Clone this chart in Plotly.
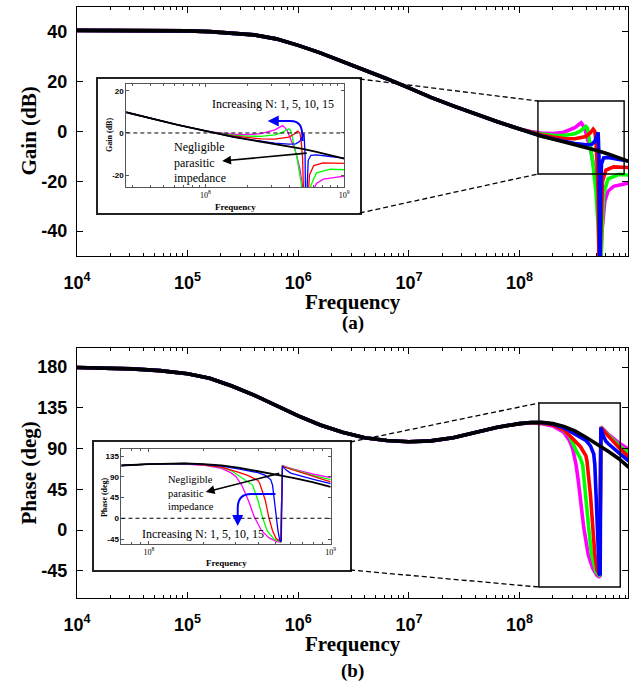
import plotly.graph_objects as go

W, H = 634, 685

# ---------------- data ----------------
# shared low-frequency part (Hz) - all curves coincide here
freq_lo = [1e4, 1.78e4, 3.16e4, 5.62e4, 1e5, 1.58e5, 2.51e5, 3.98e5, 6.31e5,
           1e6, 1.58e6, 2.51e6, 3.98e6, 6.31e6, 1e7, 1.58e7, 2.51e7, 3.98e7, 6.31e7, 1e8]
gain_lo = [40.6, 40.6, 40.6, 40.5, 40.4, 40.1, 39.6, 38.8, 37.2,
           34.6, 31.6, 28.2, 24.6, 21.2, 17.5, 13.7, 10.3, 7.0, 3.9, 1.0]
phase_lo = [179.5, 179.0, 178.0, 176.0, 172.5, 167.5, 159.0, 149.0, 137.0,
            126.0, 116.0, 108.0, 102.0, 98.8, 97.5, 98.5, 102.0, 107.5, 113.5, 117.5]

# Negligible parasitic impedance (black)
neg_gain_f = [1.26e8, 1.58e8, 2.0e8, 2.51e8, 3.16e8, 3.98e8, 5.01e8, 6.31e8, 7.94e8, 1e9]
neg_gain_v = [-0.6, -1.9, -3.0, -4.1, -5.2, -6.3, -7.6, -9.0, -10.5, -12.2]
neg_phase_f = [1.26e8, 1.58e8, 2.0e8, 2.51e8, 3.16e8, 3.98e8, 5.01e8, 6.31e8, 7.94e8, 1e9]
neg_phase_v = [118.8, 119.0, 117.5, 114.5, 109.5, 102.5, 95.0, 87.0, 78.5, 68.0]

# N = 1 (blue)
n1_gain_f = [1.26e8, 1.58e8, 2.0e8, 2.51e8, 3.16e8, 3.98e8, 4.47e8, 4.79e8, 5.01e8, 5.13e8,
             5.22e8, 5.31e8, 5.41e8, 5.50e8, 5.75e8, 6.31e8, 7.94e8, 1e9]
n1_gain_v = [-0.6, -1.8, -2.9, -3.9, -4.8, -5.3, -5.2, -4.0, -2.0, -0.3,
             -10, -60, -25, -13, -10.6, -10.4, -11.2, -12.0]
n1_phase_f = [1.26e8, 1.58e8, 2.0e8, 2.51e8, 3.16e8, 3.55e8, 3.98e8, 4.37e8, 4.68e8, 4.79e8, 4.90e8,
              5.01e8, 5.13e8, 5.25e8, 5.35e8, 5.43e8, 5.56e8, 5.69e8, 6.03e8, 6.31e8, 7.94e8, 1e9]
n1_phase_v = [118.8, 118.8, 117, 113, 106.5, 103, 99, 93, 84, 72, 39,
              2, -27, -48, -50, 113, 109, 104.5, 98, 95.5, 85, 75]

# N = 5 (red)
n5_gain_f = [1.26e8, 1.58e8, 2.0e8, 2.51e8, 3.16e8, 3.98e8, 4.37e8, 4.62e8, 4.79e8, 4.90e8,
             5.01e8, 5.13e8, 5.25e8, 5.43e8, 5.62e8, 6.03e8, 7.08e8, 1e9]
n5_gain_v = [-0.4, -1.4, -2.2, -2.8, -2.9, -2.0, -0.5, 0.9, 0.0, -4,
             -12, -25, -60, -35, -20, -15.5, -14.2, -14.5]
n5_phase_f = [1.26e8, 1.58e8, 2.0e8, 2.51e8, 3.16e8, 3.55e8, 3.98e8, 4.07e8, 4.37e8, 4.57e8,
              4.79e8, 5.01e8, 5.31e8, 5.43e8, 5.75e8, 6.31e8, 7.94e8, 1e9]
n5_phase_v = [118.6, 118.3, 116, 111, 99, 92, 82, 76, 39, 2,
              -27, -44, -50, 113, 109, 104, 91, 79]

# N = 10 (green)
n10_gain_f = [1.26e8, 1.58e8, 2.0e8, 2.51e8, 3.16e8, 3.55e8, 3.80e8, 3.98e8, 4.12e8, 4.27e8,
              4.57e8, 4.90e8, 5.13e8, 5.31e8, 5.50e8, 5.75e8, 6.31e8, 7.94e8, 1e9]
n10_gain_v = [-0.2, -1.0, -1.5, -1.6, -0.9, 0.2, 1.4, 2.0, 1.2, -3,
              -12, -24, -38, -60, -40, -25, -19, -17.2, -17.5]
n10_phase_f = [1.26e8, 1.58e8, 2.0e8, 2.51e8, 2.82e8, 3.24e8, 3.55e8, 3.72e8, 3.98e8, 4.22e8,
               4.47e8, 4.90e8, 5.31e8, 5.43e8, 5.75e8, 6.31e8, 7.94e8, 1e9]
n10_phase_v = [118.5, 118, 116.5, 110.5, 104, 88, 79, 72, 39, 2,
               -27, -46, -51, 113.5, 110, 105, 93, 84]

# N = 15 (magenta)
n15_gain_f = [1.26e8, 1.58e8, 2.0e8, 2.51e8, 2.88e8, 3.16e8, 3.43e8, 3.60e8, 3.76e8, 3.89e8,
              4.17e8, 4.37e8, 4.57e8, 4.79e8, 5.01e8, 5.13e8, 5.25e8, 5.37e8, 5.56e8, 5.89e8,
              6.31e8, 7.08e8, 1e9]
n15_gain_v = [0.0, -0.6, -0.8, -0.3, 0.6, 1.5, 2.8, 3.5, 2.3, 1.0,
              -4, -7, -11.5, -17, -25, -31, -42, -60, -40, -28,
              -24, -22, -20.5]
n15_phase_f = [1.26e8, 1.58e8, 2.0e8, 2.51e8, 2.82e8, 3.02e8, 3.24e8, 3.39e8, 3.55e8, 3.80e8,
               4.17e8, 4.57e8, 5.01e8, 5.31e8, 5.43e8, 5.75e8, 6.31e8, 7.94e8, 1e9]
n15_phase_v = [118.5, 117.5, 115, 108, 99, 90, 72, 55, 36, 3,
               -27, -42, -50, -52, 114, 111, 106, 96, 88]

x_tick_vals = [1e4, 1e5, 1e6, 1e7, 1e8]
x_tick_text = ["10<sup>4</sup>", "10<sup>5</sup>", "10<sup>6</sup>", "10<sup>7</sup>", "10<sup>8</sup>"]
gain_ticks = [-40, -20, 0, 20, 40]
gain_tick_text = ["-40", "-20", "0", "20", "40"]
phase_ticks = [-45, 0, 45, 90, 135, 180]
phase_tick_text = ["-45", "0", "45", "90", "135", "180"]
inset_gain_ticks = [-20, 0, 20]
inset_gain_text = ["-20", "0", "20"]
inset_phase_ticks = [-45, 0, 45, 90, 135]
inset_phase_text = ["-45", "0", "45", "90", "135"]
inset_x_vals = [1e8, 1e9]
inset_x_text = ["10<sup>8</sup>", "10<sup>9</sup>"]
minor_x = [m * 10 ** e for e in range(4, 9) for m in range(2, 10)]

series = [
    ("N = 15", "#FF00FF", n15_gain_f, n15_gain_v, n15_phase_f, n15_phase_v),
    ("N = 10", "#00FF00", n10_gain_f, n10_gain_v, n10_phase_f, n10_phase_v),
    ("N = 5", "#FF0000", n5_gain_f, n5_gain_v, n5_phase_f, n5_phase_v),
    ("N = 1", "#0000FF", n1_gain_f, n1_gain_v, n1_phase_f, n1_phase_v),
    ("Negligible", "#000000", neg_gain_f, neg_gain_v, neg_phase_f, neg_phase_v),
]

# ---------------- helpers (pixel -> paper) ----------------
def px(x):
    return x / W


def py(y):
    return 1 - y / H


fig = go.Figure()

# dummy traces so the white inset frames exist (x3/y3, x4/y4)
fig.add_trace(go.Scatter(x=[None], y=[None], xaxis="x3", yaxis="y3", showlegend=False, hoverinfo="skip"))
fig.add_trace(go.Scatter(x=[None], y=[None], xaxis="x4", yaxis="y4", showlegend=False, hoverinfo="skip"))

for name, col, gf, gv, pf, pv in series:
    wmain = 3.6
    winset = 1.8 if col == "#000000" else 1.3
    fig.add_trace(go.Scatter(x=freq_lo + gf, y=gain_lo + gv, mode="lines", name=name,
                             line=dict(color=col, width=wmain), xaxis="x", yaxis="y", showlegend=False))
    fig.add_trace(go.Scatter(x=freq_lo + pf, y=phase_lo + pv, mode="lines", name=name,
                             line=dict(color=col, width=wmain), xaxis="x2", yaxis="y2", showlegend=False))
    fig.add_trace(go.Scatter(x=freq_lo + gf, y=gain_lo + gv, mode="lines", name=name,
                             line=dict(color=col, width=winset), xaxis="x5", yaxis="y5", showlegend=False))
    fig.add_trace(go.Scatter(x=freq_lo + pf, y=phase_lo + pv, mode="lines", name=name,
                             line=dict(color=col, width=winset), xaxis="x6", yaxis="y6", showlegend=False))

SANS = "Liberation Sans"
SERIF = "Liberation Serif"

main_common = dict(showline=True, linecolor="black", linewidth=1.3, mirror="ticks",
                   ticks="inside", ticklen=6, tickwidth=1.2, tickcolor="black",
                   showgrid=False, zeroline=False,
                   tickfont=dict(family=SANS, size=18, color="black", weight="bold"))

xmain = dict(type="log", range=[4, 8.98], domain=[px(65), 1], tickmode="array",
             tickvals=x_tick_vals, ticktext=x_tick_text, ticklabelstandoff=10,
             minor=dict(tickmode="array", tickvals=minor_x, ticks="inside", ticklen=3,
                        tickcolor="black", tickwidth=1), **main_common)

inset_common = dict(showline=True, linecolor="#555555", linewidth=1, mirror="ticks",
                    ticks="inside", ticklen=3, tickwidth=1, tickcolor="#555555",
                    showgrid=False, zeroline=False,
                    tickfont=dict(family=SANS, size=8, color="black", weight="bold"))

inset_x_minor = dict(tickmode="array", tickvals=minor_x, ticks="inside", ticklen=2,
                     tickcolor="#555555", tickwidth=1)

frame_common = dict(showline=True, linecolor="#222222", linewidth=2, mirror=True,
                    ticks="", showticklabels=False, showgrid=False, zeroline=False,
                    range=[0, 1], fixedrange=True)

fig.update_layout(
    width=W, height=H,
    margin=dict(l=0, r=0, t=0, b=0),
    paper_bgcolor="white", plot_bgcolor="white",
    showlegend=False,
    xaxis=dict(anchor="y", **xmain),
    yaxis=dict(anchor="x", range=[-50, 50], domain=[py(256), py(7)], tickmode="array",
               tickvals=gain_ticks, ticktext=gain_tick_text, ticklabelstandoff=5, **main_common),
    xaxis2=dict(anchor="y2", **xmain),
    yaxis2=dict(anchor="x2", range=[-75, 201], domain=[py(598), py(348)], tickmode="array",
                tickvals=phase_ticks, ticktext=phase_tick_text, ticklabelstandoff=5, **main_common),
    # white frames of the insets
    xaxis3=dict(anchor="y3", domain=[px(87), px(357)], **frame_common),
    yaxis3=dict(anchor="x3", domain=[py(213), py(79)], **frame_common),
    xaxis4=dict(anchor="y4", domain=[px(83), px(347)], **frame_common),
    yaxis4=dict(anchor="x4", domain=[py(570), py(442)], **frame_common),
    # gain inset
    xaxis5=dict(anchor="y5", type="log", range=[7.43, 9.0], domain=[px(116), px(341)],
                tickmode="array", tickvals=inset_x_vals, ticktext=inset_x_text,
                minor=inset_x_minor, **{**inset_common, "tickfont": dict(family=SERIF, size=8, color="black")}),
    yaxis5=dict(anchor="x5", range=[-25.7, 23.3], domain=[py(187), py(84)], tickmode="array",
                tickvals=inset_gain_ticks, ticktext=inset_gain_text, **inset_common),
    # phase inset
    xaxis6=dict(anchor="y6", type="log", range=[7.85, 9.0], domain=[px(111), px(327)],
                tickmode="array", tickvals=inset_x_vals, ticktext=inset_x_text,
                minor=inset_x_minor, **{**inset_common, "tickfont": dict(family=SERIF, size=8, color="black")}),
    yaxis6=dict(anchor="x6", range=[-55.8, 150.2], domain=[py(544), py(449)], tickmode="array",
                tickvals=inset_phase_ticks, ticktext=inset_phase_text, **inset_common),
)

shapes = []
dash_style = "5px,3px"
# zoom boxes on the main plots
shapes.append(dict(type="rect", xref="paper", yref="paper", x0=px(541), x1=px(630), y0=py(174), y1=py(101),
                   line=dict(color="black", width=1.4), layer="above"))
shapes.append(dict(type="rect", xref="paper", yref="paper", x0=px(542), x1=px(626), y0=py(587), y1=py(403),
                   line=dict(color="black", width=1.4), layer="above"))
# connectors
for (xa, ya, xb, yb) in [(357, 79, 541, 101), (357, 213, 541, 174), (347, 442, 542, 403), (347, 570, 542, 587)]:
    shapes.append(dict(type="line", xref="paper", yref="paper", x0=px(xa), y0=py(ya), x1=px(xb), y1=py(yb),
                       line=dict(color="black", width=1.3, dash=dash_style), layer="above"))
# zero reference lines in the insets
shapes.append(dict(type="line", xref="x5 domain", yref="y5", x0=0, x1=1, y0=0, y1=0,
                   line=dict(color="black", width=1, dash="4px,3px"), layer="above"))
shapes.append(dict(type="line", xref="x6 domain", yref="y6", x0=0, x1=1, y0=0, y1=0,
                   line=dict(color="black", width=1, dash="4px,3px"), layer="above"))
# curved blue arrow bodies
path_g = "M {} {} C {} {} {} {} {} {} L {} {}".format(
    px(298), py(141), px(298), py(127), px(296), py(121), px(285), py(121), px(268), py(121))
shapes.append(dict(type="path", xref="paper", yref="paper", path=path_g,
                   line=dict(color="#0000FF", width=2), layer="above"))
path_p = "M {} {} L {} {} C {} {} {} {} {} {} L {} {}".format(
    px(270), py(494), px(245), py(494), px(235), py(494), px(231), py(499), px(231), py(508), px(231), py(518))
shapes.append(dict(type="path", xref="paper", yref="paper", path=path_p,
                   line=dict(color="#0000FF", width=2), layer="above"))
fig.update_layout(shapes=shapes)

ann = []


def text(x, y, s, size, family=SERIF, angle=0, xanchor="center", align="center"):
    ann.append(dict(x=px(x), y=py(y), xref="paper", yref="paper", text=s, showarrow=False,
                    textangle=angle, xanchor=xanchor, yanchor="middle", align=align,
                    font=dict(family=family, size=size, color="black")))


# main titles
text(15, 131, "<b>Gain (dB)</b>", 21, angle=-90)
text(15, 473, "<b>Phase (deg)</b>", 21, angle=-90)
text(350, 302, "<b>Frequency</b>", 21)
text(350, 644, "<b>Frequency</b>", 21)
text(350, 323, "<b>(a)</b>", 19)
text(350, 671, "<b>(b)</b>", 19)
# inset titles
text(98, 135, "<b>Gain (dB)</b>", 8, angle=-90)
text(229, 207, "<b>Frequency</b>", 9)
text(93, 497, "<b>Phase (deg)</b>", 8, angle=-90)
text(219, 563, "<b>Frequency</b>", 9)
# inset notes
text(267, 104, "Increasing N: 1, 5, 10, 15", 12)
text(163, 162, "Negligible<br>parasitic<br>impedance", 12, xanchor="left", align="left")
text(195, 534, "Increasing N: 1, 5, 10, 15", 12)
text(157, 493, "Negligible<br>parasitic<br>impedance", 10.5, xanchor="left", align="left")


def arrow(xh, yh, xt, yt, color, width):
    ann.append(dict(x=px(xh), y=py(yh), xref="paper", yref="paper", text="", showarrow=True,
                    ax=xt - xh, ay=yt - yh, arrowhead=2, arrowsize=1.1, arrowwidth=width,
                    arrowcolor=color))


arrow(215, 161, 301, 153, "black", 1.6)
arrow(198, 492, 273, 473, "black", 1.6)
arrow(262, 121, 270, 121, "#0000FF", 2)
arrow(231, 526, 231, 516, "#0000FF", 2)

fig.update_layout(annotations=ann)

fig.write_html("out.html")
